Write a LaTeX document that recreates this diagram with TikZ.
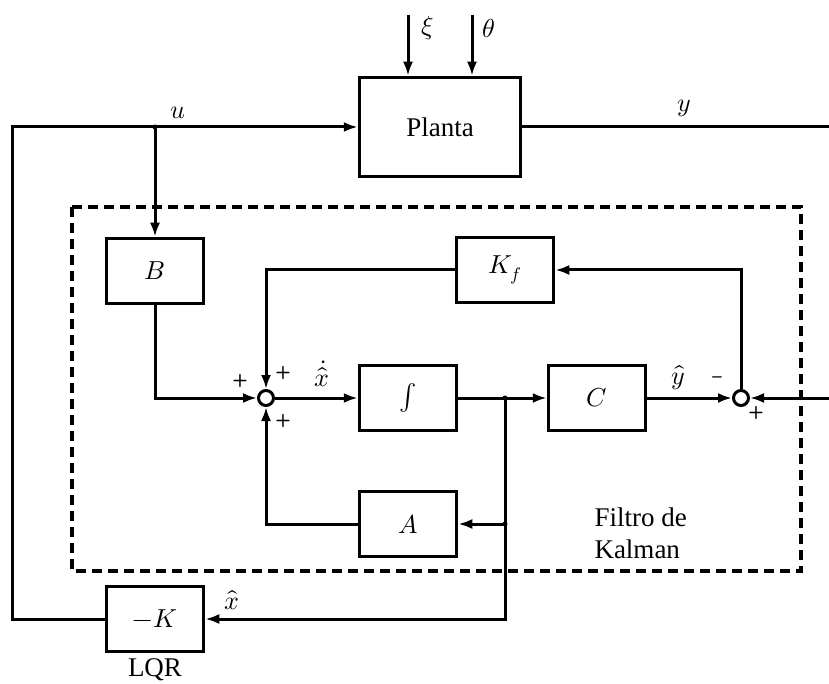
\documentclass[tikz,border=0pt]{standalone}
\usepackage{fontspec}
\usepackage{unicode-math}
\setmainfont{Liberation Serif}
\setmathfont{Latin Modern Math}
\usetikzlibrary{arrows.meta}
\begin{document}
\begin{tikzpicture}[x=1pt,y=-1pt, line width=3pt, >={Latex[length=14pt,width=10pt]},
 blk/.style={draw, line width=3.5pt, minimum width=97pt, minimum height=65pt, inner sep=0pt, font=\fontsize{26}{30}\selectfont},
 sumj/.style={draw, circle, line width=3pt, minimum size=15pt, inner sep=0pt, fill=white},
 lbl/.style={font=\fontsize{26}{30}\selectfont, inner sep=0pt},
 sgn/.style={font=\fontsize{18}{20}\selectfont\sffamily\bfseries, inner sep=0pt},
 txt/.style={font=\fontsize{27}{32}\selectfont, inner sep=0pt},
 jdot/.style={circle, fill, inner sep=0pt, minimum size=5pt}]
\useasboundingbox (0,0) rectangle (829,684);
% blocks
\node[blk, minimum width=161pt, minimum height=99pt, font=\fontsize{27}{32}\selectfont] (P) at (440,127) {Planta};
\node[blk] (B) at (155,271) {$B$};
\node[blk] (Kf) at (505,270) {$K_f$};
\node[blk] (I) at (408,398) {$\int$};
\node[blk] (C) at (597,398) {$C$};
\node[blk] (A) at (408,524) {$A$};
\node[blk] (K) at (155,619) {$-K$};
\node[sumj] (s1) at (266,398) {};
\node[sumj] (s2) at (741,398) {};
% coordinates
\coordinate (xi) at (408,15);
\coordinate (th) at (472,15);
\coordinate (uj) at (155,127);
\coordinate (ul) at (12,127);
\coordinate (kl) at (12,619);
\coordinate (yout) at (829,127);
\coordinate (rin) at (829,398);
\coordinate (br) at (505,398);
\coordinate (ba) at (505,524);
% dashed frame
\draw[line width=3.5pt, dash pattern=on 10pt off 6pt] (72,207) rectangle (801,571);
% connectors
\draw[->] (K.west) -- (kl) -- (ul) -- (P.west);
\draw[->] (uj) -- (B.north);
\draw[->] (xi) -- (xi |- P.north);
\draw[->] (th) -- (th |- P.north);
\draw (P.east) -- (yout);
\draw[->] (B.south) |- (s1.west);
\draw[->] (Kf.west) -| (s1.north);
\draw[->] (A.west) -| (s1.south);
\draw[->] (s1.east) -- (I.west);
\draw[->] (I.east) -- (C.west);
\draw[->] (C.east) -- (s2.west);
\draw[->] (rin) -- (s2.east);
\draw[->] (s2.north) |- (Kf.east);
\draw[->] (br) |- (A.east);
\draw[->] (br) |- (K.east);
\node[jdot] at (uj) {};
\node[jdot] at (br) {};
\node[jdot] at (ba) {};
% labels
\node[lbl] at (428,28) {$\xi$};
\node[lbl] at (489,28) {$\theta$};
\node[lbl] at (178,113) {$u$};
\node[lbl] at (684,108) {$y$};
\node[lbl] at (322,374) {$\dot{\widehat{x}}$};
\node[lbl] at (678,378) {$\widehat{y}$};
\node[lbl] at (232,600) {$\widehat{x}$};
\node[sgn] at (240,381) {+};
\node[sgn] at (283,373) {+};
\node[sgn] at (283,421) {+};
\node[sgn] at (717,380) {\textendash};
\node[sgn] at (756,413) {+};
\node[txt, align=left, anchor=west] at (593,533) {Filtro de\\Kalman};
\node[txt] at (155,670) {LQR};
\end{tikzpicture}
\end{document}
